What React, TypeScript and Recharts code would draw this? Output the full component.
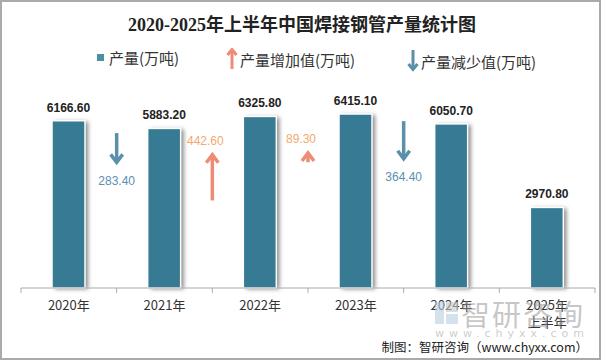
import { ComposedChart, Bar, Scatter, XAxis, YAxis, LabelList } from "recharts";

const years = ["2020年", "2021年", "2022年", "2023年", "2024年", "2025年\n上半年"];
const output = [6166.6, 5883.2, 6325.8, 6415.1, 6050.7, 2970.8];

// year-on-year change, drawn between two bars
const changeAt = [1, 2, 3, 4];
const changeValue = [-283.4, 442.6, 89.3, -364.4];
// where each arrow starts, on the arrow axis
const arrowStart = [1499, 847, 1217, 1615];

const BAR = "#367a93";
const UP = "#ee8b75";
const UP_LABEL = "#f3a96e";
const DOWN = "#5a90aa";
const DOWN_LABEL = "#5a90b0";

const chartData = years.map((year, i) => ({ year, value: output[i] }));

const arrows = changeAt.map((x, i) => [
  { x, y: arrowStart[i], head: false, change: changeValue[i] },
  { x, y: arrowStart[i] + changeValue[i], head: true, change: changeValue[i] },
]);

const ShadowBar = (props: any) => {
  const { x, y, width, height, fill } = props;
  return (
    <g>
      <rect x={x + 3} y={y + 1} width={width} height={height} fill="#888" filter="url(#barShadow)" />
      <rect x={x} y={y} width={width} height={height} fill={fill} stroke="#fff" strokeWidth={1.5} />
    </g>
  );
};

const ArrowHead = (props: any) => {
  const { cx, cy, payload } = props;
  if (!payload || !payload.head) return <g />;
  const up = payload.change > 0;
  const s = up ? 1 : -1;
  const color = up ? UP : DOWN;
  const label = Math.abs(payload.change).toFixed(2);
  return (
    <g>
      <polyline
        points={`${cx - 6},${cy + s * 8} ${cx},${cy} ${cx + 6},${cy + s * 8}`}
        fill="none"
        stroke={color}
        strokeWidth={3.5}
      />
      <text
        x={up ? cx - 7 : cx}
        y={up ? cy - 13 : cy + 19}
        textAnchor="middle"
        dominantBaseline="middle"
        fontSize={12}
        fontFamily="'Liberation Sans', Arial, sans-serif"
        fill={up ? UP_LABEL : DOWN_LABEL}
      >
        {label}
      </text>
    </g>
  );
};

const YearTick = (props: any) => {
  const { x, y, payload, index } = props;
  const half = payload.offset ?? 47.8;
  const lines = String(payload.value).split("\n");
  return (
    <g>
      <line x1={x - half} x2={x - half} y1={y - 5} y2={y} stroke="#aaa" />
      {index === years.length - 1 && <line x1={x + half} x2={x + half} y1={y - 5} y2={y} stroke="#aaa" />}
      {lines.map((t, i) => (
        <text
          key={i}
          x={x}
          y={y + 17 + i * 17}
          textAnchor="middle"
          fontSize={13}
          fontFamily="'Noto Sans CJK SC', sans-serif"
          fill="#333"
        >
          {t}
        </text>
      ))}
    </g>
  );
};

const legendText = { fontSize: 15, color: "#333", fontFamily: "'Noto Sans CJK SC', sans-serif" };

const UpIcon = ({ color }: { color: string }) => (
  <svg width={12} height={22} style={{ marginRight: 2 }}>
    <line x1={6} y1={21} x2={6} y2={2} stroke={color} strokeWidth={3} />
    <polyline points="1.5,7 6,1.5 10.5,7" fill="none" stroke={color} strokeWidth={3} />
  </svg>
);

const DownIcon = ({ color }: { color: string }) => (
  <svg width={12} height={22} style={{ marginRight: 2 }}>
    <line x1={6} y1={0} x2={6} y2={19} stroke={color} strokeWidth={3} />
    <polyline points="1.5,14 6,19.5 10.5,14" fill="none" stroke={color} strokeWidth={3} />
  </svg>
);

export default function App() {
  return (
    <div style={{ position: "absolute", left: 0, top: 0, width: 604, height: 361, background: "#fff" }}>
      <div
        style={{
          position: "absolute",
          left: 0,
          top: 0,
          width: 601,
          height: 360,
          border: "2px solid #aaa",
          boxSizing: "border-box",
        }}
      />
      <div
        style={{
          position: "absolute",
          top: 10,
          width: 604,
          textAlign: "center",
          fontSize: 18,
          fontWeight: "bold",
          color: "#222",
          fontFamily: "'Liberation Serif', 'Noto Sans CJK SC', serif",
        }}
      >
        2020-2025年上半年中国焊接钢管产量统计图
      </div>

      <div style={{ position: "absolute", left: 97, top: 47, display: "flex", alignItems: "center", ...legendText }}>
        <span style={{ width: 7, height: 7, background: "#4b8fa8", marginRight: 5 }} />
        产量(万吨)
      </div>
      <div style={{ position: "absolute", left: 226, top: 48, display: "flex", alignItems: "center", ...legendText }}>
        <UpIcon color={UP} />
        产量增加值(万吨)
      </div>
      <div style={{ position: "absolute", left: 407, top: 50, display: "flex", alignItems: "center", ...legendText }}>
        <DownIcon color={DOWN} />
        产量减少值(万吨)
      </div>

      <ComposedChart
        width={604}
        height={361}
        data={chartData}
        margin={{ top: 71, right: 9, bottom: 33, left: 21 }}
        style={{ position: "absolute", left: 0, top: 0 }}
      >
        <defs>
          <filter id="barShadow" x="-50%" y="-10%" width="200%" height="120%">
            <feGaussianBlur stdDeviation="2" />
          </filter>
        </defs>
        <XAxis
          dataKey="year"
          interval={0}
          height={40}
          axisLine={{ stroke: "#aaa" }}
          tickLine={false}
          tickSize={5}
          tickMargin={0}
          tick={<YearTick />}
        />
        <XAxis xAxisId="n" type="number" dataKey="x" domain={[0, 6]} hide />
        <YAxis yAxisId="v" domain={[0, 8000]} hide />
        <YAxis yAxisId="a" domain={[0, 2100]} hide />
        <Bar yAxisId="v" dataKey="value" fill={BAR} barSize={33} shape={<ShadowBar />} isAnimationActive={false}>
          <LabelList
            dataKey="value"
            position="top"
            offset={9}
            formatter={(v: any) => Number(v).toFixed(2)}
            style={{ fontSize: 12, fontWeight: "bold", fill: "#222", fontFamily: "'Liberation Sans', Arial, sans-serif" }}
          />
        </Bar>
        {arrows.map((pts, i) => (
          <Scatter
            key={i}
            xAxisId="n"
            yAxisId="a"
            data={pts}
            dataKey="y"
            line={{ stroke: pts[0].change > 0 ? UP : DOWN, strokeWidth: 3.5 }}
            shape={<ArrowHead />}
            isAnimationActive={false}
          />
        ))}
      </ComposedChart>

      <div style={{ position: "absolute", left: 435, top: 298, pointerEvents: "none" }}>
        <div style={{ display: "flex", alignItems: "center" }}>
          <svg width={24} height={24} style={{ opacity: 0.6 }}>
            <rect x={0} y={1} width={9} height={22} fill="#b9cfe3" />
            <rect x={11} y={1} width={12} height={10} fill="#c9c9c9" />
            <rect x={11} y={13} width={12} height={10} fill="#b9cfe3" />
          </svg>
          <span
            style={{
              fontSize: 29,
              color: "rgba(150,150,150,0.55)",
              marginLeft: 2,
              letterSpacing: 2,
              fontFamily: "'Noto Sans CJK SC', sans-serif",
              lineHeight: "30px",
            }}
          >
            智研咨询
          </span>
        </div>
        <div
          style={{
            fontSize: 11,
            color: "rgba(160,160,160,0.55)",
            letterSpacing: 5,
            fontFamily: "'DejaVu Sans', sans-serif",
            lineHeight: "12px",
          }}
        >
          www.chyxx.com
        </div>
      </div>

      <div
        style={{
          position: "absolute",
          right: 16,
          top: 337,
          fontSize: 12.5,
          color: "#222",
          fontFamily: "'Noto Sans CJK SC', sans-serif",
          whiteSpace: "nowrap",
        }}
      >
        制图：智研咨询（www.chyxx.com）
      </div>
    </div>
  );
}
